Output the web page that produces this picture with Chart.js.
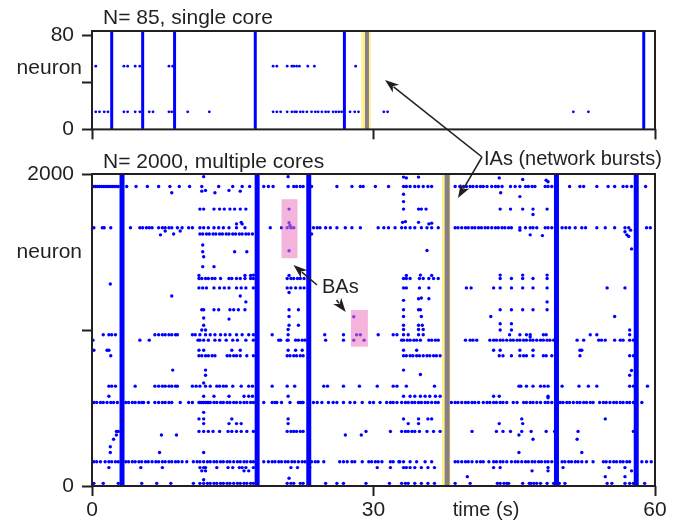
<!DOCTYPE html>
<html>
<head>
<meta charset="utf-8">
<script src="https://cdn.jsdelivr.net/npm/chart.js@4.4.1/dist/chart.umd.min.js"></script>
<style>
  html, body { margin: 0; padding: 0; background: #fff; }
  #wrap { position: relative; width: 680px; height: 524px; }
  #topBox { position: absolute; left: 0; top: 0; width: 680px; height: 150px; }
  #botBox { position: absolute; left: 0; top: 150px; width: 680px; height: 374px; }
</style>
</head>
<body>
<div id="wrap">
  <div id="topBox"><canvas id="topChart"></canvas></div>
  <div id="botBox"><canvas id="botChart"></canvas></div>
</div>
<script>
// axes
const xTicks = [0, 30, 60];
const topYTicks = [0, 40, 80];
const botYTicks = [0, 1000, 2000];

// N = 85 network: burst times (s) and the two active neurons
const topBursts = [2.1, 5.4, 8.8, 17.4, 26.9, 58.8];
const topMarkedBurst = 29.3;
const topMarkedBand = [28.7, 29.7];
const topRow54 = [0.4, 3.4, 3.8, 4.6, 5.1, 8.2, 8.6, 19.3, 19.7, 20.8, 21.3, 21.5, 21.8, 22.1, 23.0, 23.7, 28.1];
const topRow15 = [0.4, 0.8, 1.3, 1.7, 3.4, 3.8, 4.6, 5.1, 6.1, 6.5, 8.2, 8.5, 10.2, 12.5, 19.3, 19.7, 20.1, 20.8,
  21.3, 21.6, 21.8, 22.2, 22.5, 22.9, 23.4, 23.8, 24.1, 24.5, 24.9, 25.2, 25.7, 26.0, 26.3, 26.6, 27.5, 28.0, 28.4,
  31.1, 31.5, 51.3, 52.9];

// N = 2000 network: burst times (s)
const botBursts = [3.2, 17.6, 23.1, 49.5, 58.0];
const botMarkedBurst = 37.85;
const botMarkedBand = [37.3, 38.2];

// spike times of the busiest neurons (s)
const row1920 = [0.2, 0.4, 0.6, 0.8, 1.0, 1.2, 1.4, 1.6, 1.8, 2.0, 2.2, 2.4, 2.6, 2.8, 3.7, 4.7, 5.9, 7.1, 8.3, 9.3,
  10.4, 11.7, 13.5, 15.0, 16.0, 16.8, 18.3, 18.8, 19.3, 20.9, 21.5, 21.8, 22.2, 22.5, 23.4, 26.1, 27.7, 28.6, 28.9,
  30.2, 31.6, 33.2, 33.5, 33.9, 34.4, 34.8, 35.3, 35.8, 36.2, 38.7, 39.2, 39.6, 39.9, 40.3, 40.6, 41.0, 41.4, 41.7,
  42.1, 42.6, 43.0, 43.3, 43.7, 44.6, 45.1, 45.6, 46.2, 46.5, 46.9, 47.2, 48.3, 48.6, 49.0, 50.9, 52.0, 52.4, 53.8,
  55.0, 55.7, 56.6, 57.0, 57.5, 59.0];
const row1775 = [11.5, 11.9, 13.0, 13.6, 14.1, 14.7, 15.2, 15.8, 16.4, 21.0, 33.2, 34.8, 35.1, 35.6, 43.5, 44.6, 45.9,
  47.0, 48.5];
const row1655 = [0.2, 1.1, 1.3, 2.0, 4.1, 5.1, 5.4, 5.8, 6.1, 6.4, 7.1, 7.5, 7.8, 8.2, 8.5, 9.1, 9.6, 10.3, 10.7, 11.5,
  11.9, 12.4, 13.0, 13.5, 14.0, 14.6, 15.4, 16.3, 19.0, 20.2, 20.8, 21.2, 21.5, 23.6, 24.0, 24.3, 24.9, 25.4, 26.1,
  27.0, 27.7, 28.6, 30.5, 31.1, 31.6, 32.3, 33.0, 33.4, 33.9, 34.4, 35.1, 35.7, 36.2, 36.9, 38.7, 39.0, 39.4, 39.8,
  40.1, 40.5, 40.8, 41.2, 41.5, 41.9, 42.2, 42.6, 43.0, 43.3, 43.7, 44.0, 44.4, 44.7, 45.6, 46.2, 46.7, 47.0, 47.4,
  48.3, 48.6, 49.0, 50.1, 50.5, 50.9, 51.5, 52.2, 52.6, 53.8, 54.7, 55.7, 56.8, 57.2, 59.1, 59.5];
const row1615 = [11.5, 11.8, 12.2, 12.5, 12.9, 13.2, 13.6, 13.9, 14.3, 14.6, 15.0, 15.3, 15.7, 16.0, 16.4, 16.7, 17.1, 23.4];
const row1330 = [11.4, 11.7, 12.1, 12.4, 12.8, 13.1, 13.7, 14.6, 14.9, 15.4, 15.8, 16.3, 16.9, 17.2, 20.8, 21.2, 21.5,
  21.9, 22.2, 22.6, 33.2, 33.5, 33.9, 34.9, 35.3, 35.9, 36.4, 36.9, 43.5, 44.7, 45.9, 47.0, 48.5];
const row1270 = [11.4, 11.8, 12.2, 13.0, 13.6, 14.1, 14.6, 15.4, 15.9, 16.4, 17.2, 20.8, 21.2, 21.7, 22.2, 22.6, 33.2,
  33.5, 34.9, 35.9, 39.9, 40.4, 42.8, 43.5, 44.7, 45.9, 47.0, 48.5, 54.9, 56.8];
const row1130 = [11.7, 11.9, 13.0, 13.5, 14.7, 15.1, 15.6, 16.3, 21.0, 22.0, 33.2, 34.8, 35.0, 43.5, 44.7, 45.9, 47.0, 48.5];
const row970 = [1.2, 1.8, 2.1, 2.5, 6.7, 7.1, 7.5, 7.8, 8.2, 8.5, 8.9, 9.1, 10.7, 11.0, 11.5, 12.1, 12.6, 13.1, 13.7,
  14.2, 14.7, 15.4, 16.0, 16.7, 17.2, 19.2, 20.9, 24.8, 26.8, 28.2, 28.6, 30.5, 32.1, 32.5, 33.2, 33.7, 34.8, 35.3,
  44.5, 45.6, 46.3, 46.7, 48.1, 48.4, 53.1, 53.8, 57.3];
const row935 = [0.1, 5.1, 6.1, 11.3, 11.5, 11.9, 12.4, 13.1, 13.6, 14.3, 15.0, 15.5, 16.4, 17.2, 19.9, 20.1, 20.8,
  20.9, 21.7, 22.0, 22.4, 22.7, 24.9, 26.8, 27.9, 29.0, 33.0, 33.2, 33.6, 33.9, 34.3, 34.6, 35.0, 35.9, 36.2, 36.6,
  36.9, 39.8, 40.3, 40.6, 41.0, 42.4, 42.8, 43.1, 43.5, 43.8, 44.2, 44.6, 44.9, 45.3, 45.6, 46.0, 46.3, 46.7, 47.0,
  47.4, 47.8, 48.1, 48.5, 48.8, 49.2, 51.7, 52.4, 54.0, 54.3, 54.7, 55.7, 56.3, 56.6, 57.3, 57.7];
const row870 = [0.2, 1.6, 1.8, 11.4, 11.9, 14.9, 15.8, 20.9, 21.7, 22.4, 33.2, 34.6, 42.8, 43.5, 45.6, 47.0, 52.0, 52.2];
const row835 = [2.0, 11.4, 11.7, 12.1, 12.4, 12.8, 13.1, 14.4, 14.7, 15.1, 15.4, 15.8, 16.5, 17.2, 20.8, 21.1, 21.5,
  21.8, 22.2, 22.5, 33.2, 33.5, 33.9, 34.2, 34.6, 34.9, 35.3, 35.7, 36.0, 36.4, 36.7, 37.1, 43.4, 43.8, 44.7, 45.6,
  46.0, 46.3, 47.0, 48.1, 48.4, 49.0, 52.0, 57.3, 57.7];
const row640 = [1.8, 2.1, 2.5, 4.6, 6.7, 7.1, 7.5, 7.8, 8.2, 8.5, 8.9, 9.1, 10.7, 11.1, 11.5, 12.1, 12.6, 13.3, 13.6,
  14.0, 14.3, 15.0, 15.9, 16.7, 17.1, 19.2, 20.8, 21.6, 24.7, 25.1, 26.8, 28.5, 30.4, 32.1, 32.5, 33.5, 36.5, 45.5,
  45.7, 46.3, 47.0, 47.8, 48.2, 48.6, 50.1, 51.9, 52.9, 53.8, 57.3, 57.7, 59.2];
const row575 = [1.8, 11.9, 13.0, 14.6, 16.2, 16.7, 17.1, 20.9, 33.2, 33.9, 34.4, 35.0, 35.5, 36.0, 36.6, 37.1, 42.8,
  43.4, 48.6];
const row535 = [0.2, 0.5, 0.9, 1.2, 1.6, 2.0, 2.3, 2.7, 3.6, 3.9, 4.3, 4.6, 5.0, 5.3, 5.5, 6.0, 6.7, 7.1, 7.5, 7.8,
  8.2, 8.5, 9.4, 10.3, 10.7, 11.4, 11.5, 11.7, 11.9, 12.1, 12.3, 12.4, 12.6, 13.0, 13.3, 13.7, 14.0, 14.4, 14.7,
  15.1, 15.4, 15.8, 16.2, 16.5, 16.9, 17.2, 18.3, 19.2, 19.5, 19.7, 20.2, 21.1, 22.0, 22.2, 22.4, 22.5, 23.6, 24.0,
  24.5, 25.2, 25.7, 26.1, 26.8, 27.5, 28.0, 28.8, 29.6, 30.0, 30.7, 31.4, 31.8, 32.1, 32.5, 33.0, 33.4, 33.7, 34.1,
  34.4, 34.8, 35.1, 35.5, 35.8, 36.2, 36.6, 36.9, 38.3, 38.7, 39.0, 39.4, 39.8, 40.1, 40.5, 40.8, 41.2, 41.7, 42.1,
  42.4, 42.8, 43.1, 43.5, 43.8, 44.2, 44.9, 45.3, 46.0, 46.3, 46.7, 47.0, 47.4, 47.8, 48.3, 48.6, 49.0, 49.9, 50.2,
  50.6, 50.9, 51.3, 51.7, 52.0, 52.4, 52.7, 53.1, 53.4, 54.1, 54.5, 54.8, 55.2, 55.6, 55.9, 56.3, 56.6, 57.0, 57.3,
  57.7, 58.6];
const row430 = [11.4, 11.9, 14.9, 20.9, 33.2, 34.8, 35.8, 36.2, 45.8, 54.7];
const row400 = [11.9, 14.6, 15.4, 15.9, 20.9, 33.7, 34.8, 43.4, 45.9];
const row350 = [2.6, 2.8, 11.4, 11.9, 12.4, 12.9, 13.6, 14.5, 14.9, 15.4, 15.9, 16.5, 17.2, 20.8, 21.2, 21.5, 21.8,
  22.2, 22.5, 29.2, 31.8, 33.0, 33.4, 33.7, 34.1, 34.4, 34.9, 35.7, 36.4, 37.1, 40.5, 43.1, 43.8, 44.6, 45.8, 46.8,
  48.4, 49.3, 51.8, 57.7];
const row155 = [0.2, 0.5, 0.9, 1.4, 1.8, 2.1, 2.5, 2.8, 3.6, 3.9, 4.3, 4.6, 5.0, 5.3, 5.7, 6.0, 6.4, 6.8, 7.1, 7.5,
  7.8, 8.2, 8.5, 8.9, 9.2, 9.6, 10.1, 10.8, 11.2, 11.5, 11.9, 12.3, 12.6, 13.0, 13.3, 13.7, 14.0, 14.4, 14.7, 15.1,
  15.5, 15.8, 16.2, 16.5, 16.9, 17.2, 18.3, 18.8, 19.2, 19.5, 19.9, 20.2, 20.6, 20.9, 21.3, 21.6, 22.0, 22.4, 22.7,
  23.4, 23.8, 24.1, 24.7, 26.4, 26.8, 27.2, 27.7, 28.0, 28.8, 29.5, 29.8, 30.2, 30.5, 30.9, 31.8, 32.1, 32.7, 32.8,
  33.2, 33.9, 34.6, 35.5, 36.2, 38.7, 39.0, 39.4, 39.8, 40.1, 40.5, 41.0, 41.4, 41.7, 42.3, 42.8, 43.1, 43.5, 43.8,
  44.2, 44.7, 45.1, 45.4, 45.8, 46.2, 46.5, 46.9, 47.2, 47.6, 47.9, 48.3, 48.6, 49.0, 50.1, 50.4, 50.8, 51.1, 51.5,
  51.8, 52.2, 52.7, 53.4, 54.5, 54.8, 55.2, 55.6, 55.9, 56.3, 56.6, 57.0, 57.3, 58.6, 59.1, 59.6];
const row118 = [1.8, 5.2, 7.5, 11.5, 11.9, 12.1, 13.3, 14.5, 15.0, 15.7, 16.0, 16.4, 17.2, 21.2, 21.9, 23.2, 30.4,
  31.8, 33.2, 33.5, 33.9, 34.4, 35.1, 35.8, 36.5, 42.8, 43.5, 48.6, 50.2, 55.1, 56.8];
const row17 = [0.2, 1.2, 2.8, 5.3, 6.9, 8.4, 10.8, 11.5, 11.9, 12.3, 12.6, 13.0, 13.3, 13.7, 14.0, 14.4, 14.7, 15.1,
  15.5, 15.8, 16.2, 16.5, 16.9, 17.2, 20.8, 21.2, 21.5, 22.2, 22.5, 24.9, 26.1, 26.8, 29.2, 31.7, 33.0, 33.4, 33.7,
  34.4, 35.1, 35.8, 36.5, 38.7, 40.3, 43.2, 43.5, 43.9, 44.2, 44.4, 45.9, 46.6, 46.8, 47.1, 47.4, 47.8, 48.5, 49.2,
  49.8, 50.4, 54.9, 55.4, 56.8, 57.3, 57.7, 58.9];

// single spikes elsewhere [time, neuron]
const otherSpikes = [[11.9, 1983], [20.9, 1983], [33.2, 1980], [33.5, 1975], [34.8, 1980], [43.4, 1975], [45.9, 1965],
  [48.4, 1960], [48.6, 1950], [43.55, 1880], [45.6, 1855], [33.2, 1870], [33.2, 1823], [8.5, 1880], [11.7, 1890],
  [12.1, 1895], [13.1, 1880], [14.6, 1895], [15.8, 1890], [7.3, 1610], [7.8, 1635], [8.7, 1615], [9.4, 1635],
  [15.4, 1680], [15.9, 1690], [16.0, 1680], [45.6, 1640], [46.7, 1610], [48.0, 1605], [56.8, 1630], [57.0, 1610],
  [57.2, 1600], [57.4, 1640], [57.5, 1520], [33.1, 1690], [33.4, 1695], [34.8, 1690], [35.9, 1680], [36.2, 1685],
  [47.0, 1740], [11.8, 1545], [11.8, 1502], [15.2, 1502], [16.5, 1502], [11.9, 1470], [35.7, 1510], [11.8, 1406],
  [13.0, 1406], [21.0, 1688], [21.1, 1670], [21.0, 1508], [11.4, 1350], [16.3, 1350], [16.9, 1350], [17.2, 1352],
  [21.0, 1350], [33.5, 1350], [35.0, 1352], [36.2, 1350], [43.5, 1352], [45.9, 1352], [48.5, 1352], [1.95, 1295],
  [21.0, 1240], [33.2, 1190], [34.8, 1200], [35.1, 1205], [35.9, 1200], [8.5, 1218], [15.8, 1218], [16.4, 1180],
  [48.5, 1180], [11.9, 1077], [14.6, 1070], [11.9, 1030], [21.0, 1087], [27.9, 1085], [33.2, 1087], [35.1, 1087],
  [21.0, 1030], [22.0, 1030], [33.2, 1030], [34.8, 1030], [35.2, 1030], [42.5, 1087], [55.7, 1087], [43.5, 1040],
  [44.7, 1040], [11.7, 1000], [12.1, 1000], [20.9, 1003], [33.2, 1003], [34.8, 1003], [35.3, 1003], [43.5, 1000],
  [44.7, 1000], [57.3, 1000], [46.7, 955], [11.9, 660], [8.6, 743], [12.1, 743], [12.1, 710], [33.2, 743],
  [35.0, 715], [57.5, 740], [57.3, 710], [48.6, 565], [11.9, 472], [2.6, 327], [7.4, 327], [9.0, 327], [27.0, 327],
  [28.7, 327], [45.5, 327], [51.7, 300], [47.0, 300], [2.3, 300], [1.95, 252], [1.95, 215], [7.2, 215], [11.9, 215],
  [45.5, 215], [52.2, 215], [11.7, 97], [12.1, 97], [16.2, 97], [16.7, 97], [46.9, 97], [48.6, 97], [57.5, 97],
  [40.0, 60], [54.7, 60], [56.8, 60], [21.0, 50], [11.9, 40]];

// boxed background activity [t0, t1, n0, n1]
const baBoxes = [[20.2, 21.9, 1460, 1838], [27.6, 29.4, 893, 1128]];

const ink = '#231f20';
const blue = '#0000ff';
const grey = '#877f88';
const yellow = 'rgb(255, 242, 140)';
const pink = 'rgba(237, 119, 191, 0.55)';
const tickFont = { family: 'Liberation Sans, Arial, sans-serif', size: 21 };

function rowPoints(rows) {
  const pts = [];
  rows.forEach(([n, times]) => times.forEach(t => pts.push({ x: t, y: n })));
  return pts;
}

function burstSets(times, top, width, color) {
  return times.map(t => ({
    type: 'line',
    data: [{ x: t, y: 0 }, { x: t, y: top }],
    borderColor: color,
    borderWidth: width,
    pointRadius: 0,
    fill: false
  }));
}

function axes(c) {
  return {
    x: {
      type: 'linear', min: 0, max: 60,
      afterBuildTicks: s => { s.ticks = xTicks.map(v => ({ value: v })); },
      afterFit: s => { s.height = c.xh; },
      ticks: { callback: v => c.xLabels ? String(v) : '', font: tickFont, color: ink, padding: 2, maxRotation: 0, autoSkip: false },
      grid: { drawOnChartArea: false, tickLength: 10, tickWidth: 2, tickColor: ink },
      border: { display: false }
    },
    y: {
      type: 'linear', min: 0, max: c.yMax,
      afterBuildTicks: s => { s.ticks = c.yTicks.map(v => ({ value: v })); },
      afterFit: s => { s.width = 92; },
      ticks: { callback: v => c.yLabels.includes(v) ? String(v) : '', font: tickFont, color: ink, padding: 8, autoSkip: false },
      grid: { drawOnChartArea: false, tickLength: 10, tickWidth: 2, tickColor: ink },
      border: { display: false }
    }
  };
}

function arrow(ctx, x1, y1, x2, y2) {
  const a = Math.atan2(y2 - y1, x2 - x1);
  const len = 14, half = 5;
  const bx = x2 - len * Math.cos(a), by = y2 - len * Math.sin(a);
  ctx.beginPath(); ctx.moveTo(x1, y1); ctx.lineTo(bx + 3 * Math.cos(a), by + 3 * Math.sin(a)); ctx.stroke();
  ctx.beginPath();
  ctx.moveTo(x2, y2);
  ctx.lineTo(bx + half * Math.sin(a), by - half * Math.cos(a));
  ctx.lineTo(bx + 4 * Math.cos(a), by + 4 * Math.sin(a));
  ctx.lineTo(bx - half * Math.sin(a), by + half * Math.cos(a));
  ctx.closePath(); ctx.fill();
}

// yellow band behind the marked burst, pink boxes and frame on top
const marks = {
  id: 'marks',
  beforeDatasetsDraw(chart, args, o) {
    const { ctx, chartArea: a, scales: { x } } = chart;
    ctx.save();
    ctx.fillStyle = yellow;
    const x0 = x.getPixelForValue(o.band[0]), x1 = x.getPixelForValue(o.band[1]);
    ctx.fillRect(x0, a.top, x1 - x0, a.bottom - a.top);
    ctx.restore();
  },
  afterDatasetsDraw(chart, args, o) {
    const { ctx, chartArea: a, scales: { x, y } } = chart;
    ctx.save();
    ctx.fillStyle = pink;
    (o.boxes || []).forEach(([t0, t1, n0, n1]) => {
      const px0 = x.getPixelForValue(t0), px1 = x.getPixelForValue(t1);
      const py0 = y.getPixelForValue(n1), py1 = y.getPixelForValue(n0);
      ctx.fillRect(px0, py0, px1 - px0, py1 - py0);
    });
    ctx.strokeStyle = ink;
    ctx.lineWidth = 2;
    ctx.strokeRect(a.left, a.top, a.right - a.left, a.bottom - a.top);
    ctx.restore();
  }
};

// texts and arrows placed in page coordinates, shared by both canvases
const notes = {
  id: 'notes',
  afterDraw(chart, args, o) {
    const ctx = chart.ctx;
    ctx.save();
    ctx.translate(0, -o.top);
    ctx.fillStyle = ink;
    ctx.strokeStyle = ink;
    ctx.lineWidth = 1.5;
    ctx.textBaseline = 'alphabetic';
    ctx.font = '21px Liberation Sans, Arial, sans-serif';
    ctx.textAlign = 'left';
    ctx.fillText('N= 85, single core', 103, 24);
    ctx.fillText('N= 2000, multiple cores', 103, 168);
    ctx.textAlign = 'right';
    ctx.fillText('neuron', 82, 74);
    ctx.fillText('neuron', 82, 258);
    ctx.font = '20px Liberation Sans, Arial, sans-serif';
    ctx.textAlign = 'center';
    ctx.fillText('time (s)', 486, 516);
    ctx.textAlign = 'left';
    ctx.fillText('IAs (network bursts)', 484, 165);
    ctx.fillText('BAs', 322, 293);
    arrow(ctx, 482, 157, 385, 80);
    arrow(ctx, 482, 157, 458, 198);
    arrow(ctx, 317, 285, 293.5, 265);
    arrow(ctx, 336.5, 300, 345.7, 312);
    ctx.restore();
  }
};

Chart.register(marks, notes);

const topDots = rowPoints([[54, topRow54], [15, topRow15]]);
new Chart(document.getElementById('topChart'), {
  type: 'scatter',
  data: {
    datasets: [
      ...burstSets([topMarkedBurst], 84, 4, grey),
      ...burstSets(topBursts, 84, 3, blue),
      { data: topDots, pointRadius: 1.4, pointBorderWidth: 0, pointBackgroundColor: blue }
    ]
  },
  options: {
    responsive: true, maintainAspectRatio: false, animation: false,
    layout: { padding: { left: 0, right: 25, top: 31, bottom: 0 } },
    scales: axes({ xh: 16, xLabels: false, yMax: 84, yTicks: topYTicks, yLabels: [0, 80] }),
    plugins: {
      legend: { display: false }, tooltip: { enabled: false },
      marks: { band: topMarkedBand },
      notes: { top: 0 }
    }
  }
});

const botDots = rowPoints([[1920, row1920], [1775, row1775], [1655, row1655], [1615, row1615], [1330, row1330],
  [1270, row1270], [1130, row1130], [970, row970], [935, row935], [870, row870], [835, row835], [640, row640],
  [575, row575], [535, row535], [430, row430], [400, row400], [350, row350], [155, row155], [118, row118], [17, row17]])
  .concat(otherSpikes.map(([t, n]) => ({ x: t, y: n })));

new Chart(document.getElementById('botChart'), {
  type: 'scatter',
  data: {
    datasets: [
      ...burstSets([botMarkedBurst], 2000, 5, grey),
      ...burstSets(botBursts, 2000, 5, blue),
      { data: botDots, pointRadius: 1.7, pointBorderWidth: 0, pointBackgroundColor: blue }
    ]
  },
  options: {
    responsive: true, maintainAspectRatio: false, animation: false,
    layout: { padding: { left: 0, right: 25, top: 24, bottom: 0 } },
    scales: axes({ xh: 38, xLabels: true, yMax: 2000, yTicks: botYTicks, yLabels: [0, 2000] }),
    plugins: {
      legend: { display: false }, tooltip: { enabled: false },
      marks: { band: botMarkedBand, boxes: baBoxes },
      notes: { top: 150 }
    }
  }
});
</script>
</body>
</html>
